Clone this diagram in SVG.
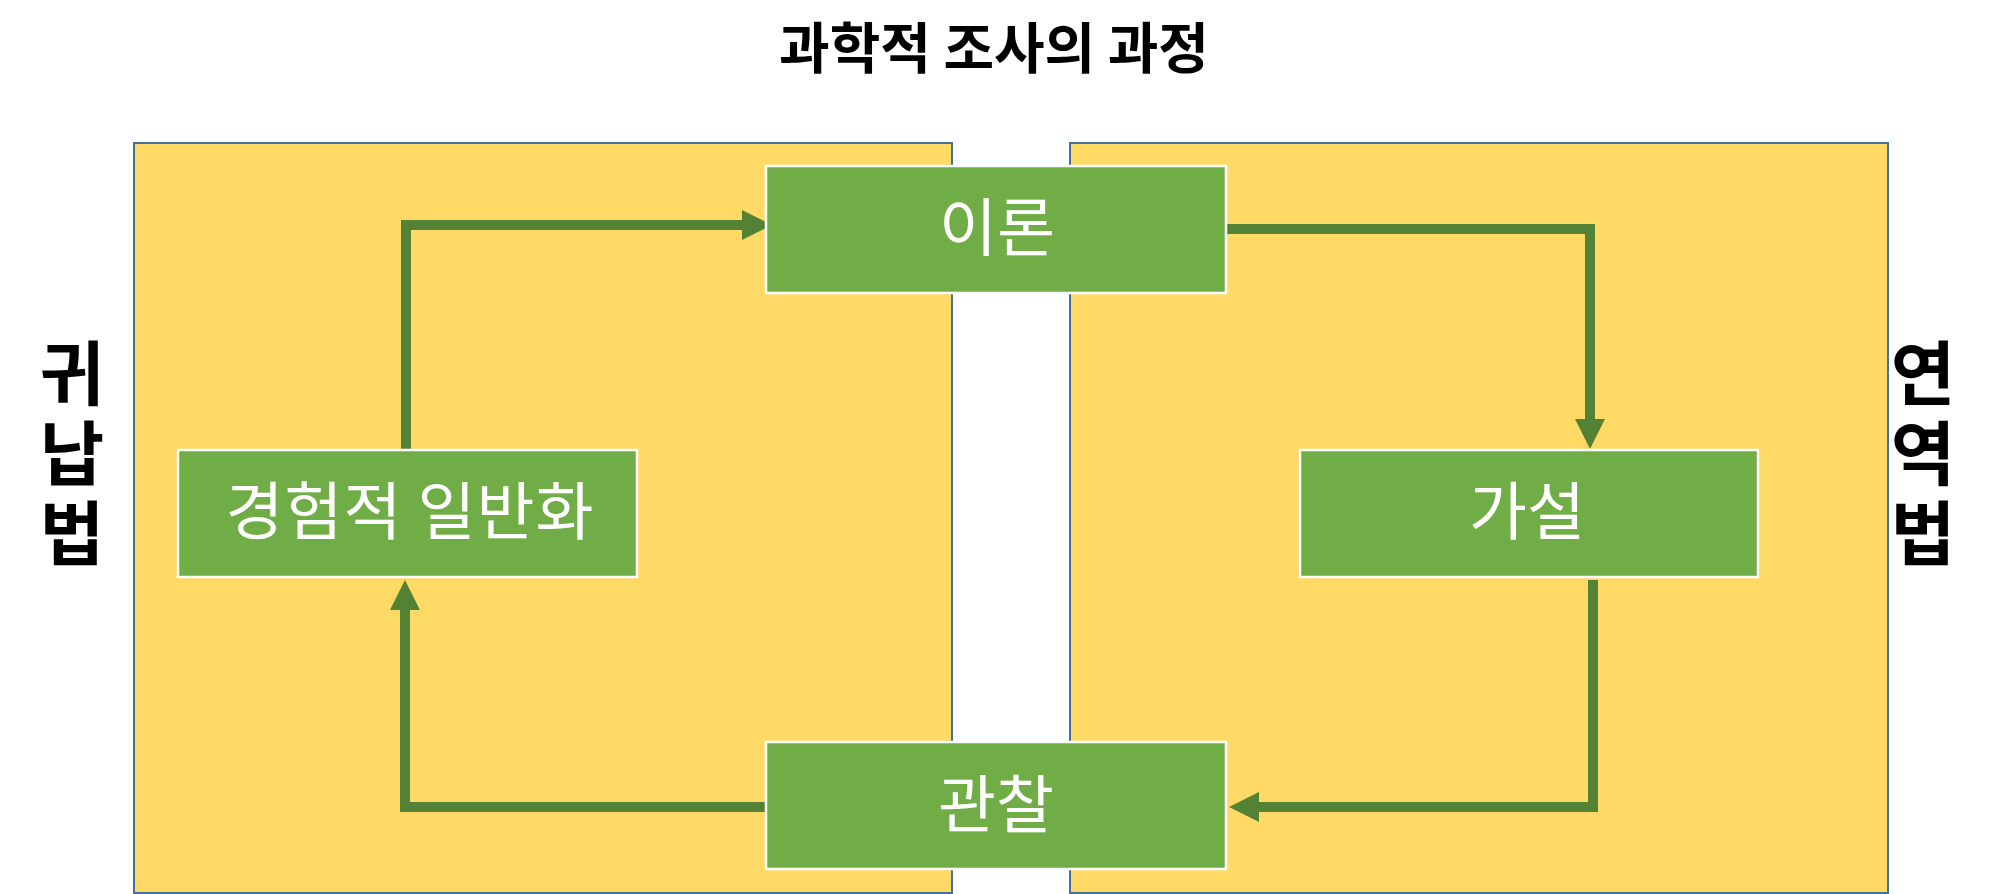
<svg xmlns="http://www.w3.org/2000/svg" width="1998" height="894" viewBox="0 0 1998 894">
<defs>
<style>
.panel{fill:#FFD966;stroke:#41719C;stroke-width:2}
.box{fill:#70AD47;stroke:#FFFFFF;stroke-width:2.5}
.lbl{font-family:"Noto Sans CJK KR","Noto Sans CJK SC",sans-serif;fill:#FFFFFF;font-size:63px;text-anchor:middle}
.side{font-family:"Noto Sans CJK KR","Noto Sans CJK SC",sans-serif;fill:#000000;font-size:70px;font-weight:bold;writing-mode:vertical-rl;text-orientation:upright;letter-spacing:10px}
.title{font-family:"Noto Sans CJK KR","Noto Sans CJK SC",sans-serif;fill:#000000;font-size:55px;font-weight:bold;text-anchor:middle}
.conn{fill:none;stroke:#548235;stroke-width:10;stroke-linejoin:miter;stroke-linecap:butt}
</style>
<marker id="arr" viewBox="0 0 30 30" refX="1" refY="15" markerWidth="30" markerHeight="30" markerUnits="userSpaceOnUse" orient="auto">
<path d="M0,0 L30,15 L0,30 Z" fill="#548235"/>
</marker>
</defs>
<rect width="1998" height="894" fill="#FFFFFF"/>
<text class="title" x="994" y="68">과학적 조사의 과정</text>
<g id="panel-left">
<rect class="panel" x="134" y="143" width="818" height="750"/>
</g>
<g id="panel-right">
<rect class="panel" x="1070" y="143" width="818" height="750"/>
</g>
<g id="label-induction">
<text class="side" x="72" y="338">귀납법</text>
</g>
<g id="label-deduction">
<text class="side" x="1923" y="338">연역법</text>
</g>
<g id="connectors">
<path class="conn" d="M406,450 V225 H743" marker-end="url(#arr)"/>
<path class="conn" d="M1226,229 H1590 V420" marker-end="url(#arr)"/>
<path class="conn" d="M1593,580 V807 H1258" marker-end="url(#arr)"/>
<path class="conn" d="M766,807 H405 V609" marker-end="url(#arr)"/>
</g>
<g id="node-theory">
<rect class="box" x="766" y="166" width="460" height="127"/>
<text class="lbl" x="997" y="250">이론</text>
</g>
<g id="node-generalization">
<rect class="box" x="178" y="450" width="459" height="127"/>
<text class="lbl" x="410" y="534" letter-spacing="1">경험적 일반화</text>
</g>
<g id="node-hypothesis">
<rect class="box" x="1300" y="450" width="458" height="127"/>
<text class="lbl" x="1527" y="534">가설</text>
</g>
<g id="node-observation">
<rect class="box" x="766" y="742" width="460" height="127"/>
<text class="lbl" x="996" y="827">관찰</text>
</g>
</svg>
